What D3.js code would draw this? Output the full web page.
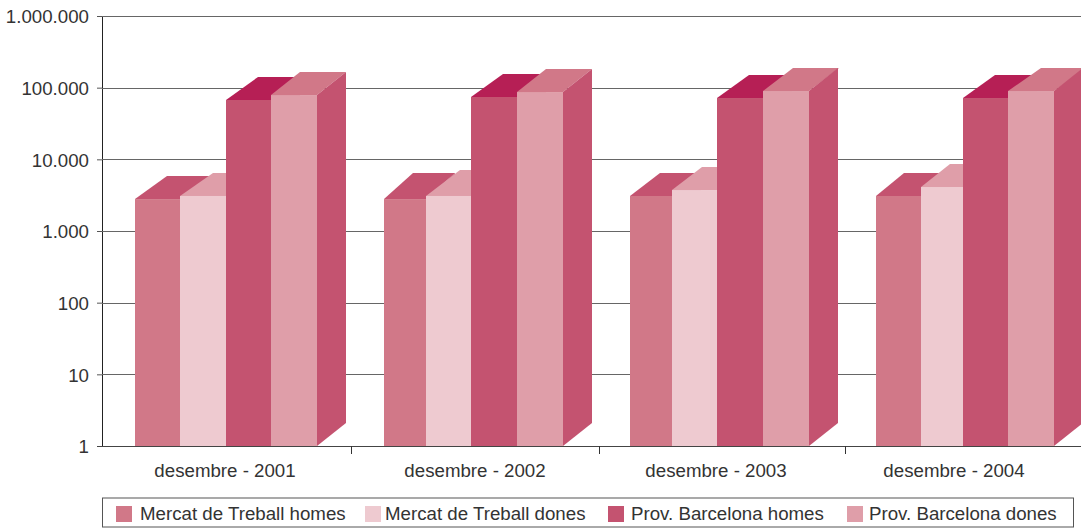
<!DOCTYPE html>
<html><head><meta charset="utf-8">
<script src="https://cdn.jsdelivr.net/npm/d3@7"></script>
<style>html,body{margin:0;padding:0;background:#fff;overflow:hidden}svg{display:block}
text{font-family:"Liberation Sans",Arial,sans-serif;fill:#333}</style></head>
<body><svg id="c" width="1081" height="528"></svg>
<script>
const categories = ["desembre - 2001","desembre - 2002","desembre - 2003","desembre - 2004"];
const seriesNames = ["Mercat de Treball homes","Mercat de Treball dones","Prov. Barcelona homes","Prov. Barcelona dones"];
const mercatHomes = [2790,2790,3080,3080];
const mercatDones = [3080,3080,3730,4110];
const provHomes = [67300,74100,71700,71700];
const provDones = [78900,86900,89800,89800];
const yTicks = [1,10,100,1000,10000,100000,1000000];
const allSeries = [mercatHomes,mercatDones,provHomes,provDones];

// layout
const svg = d3.select("#c");
const plotL = 102, plotR = 1081, plotT = 16, plotB = 446;
const y = d3.scaleLog().domain([1,1000000]).range([plotB,plotT]);
const fronts = ["#d17888","#eecad0","#c45370","#df9ea9"];
const tops = ["#c45370","#df9ea9","#b61f55","#d17888"];
const sideColor = "#c45370";
// bar edges per group as drawn in the original (slightly irregular)
const edgeScales = [
  d3.scaleOrdinal().domain([0,1,2,3,4]).range([135,180,226,271,317]),
  d3.scaleOrdinal().domain([0,1,2,3,4]).range([384,426,471,517,563]),
  d3.scaleOrdinal().domain([0,1,2,3,4]).range([630,672,717,763,809]),
  d3.scaleOrdinal().domain([0,1,2,3,4]).range([876,921,963,1008,1054])
];
const depthX = [[32,33,32,29],[29,34,32,29],[30,30,32,30],[28,29,32,33]];
const depthY = [[23,23,23,23],[26,26,23,23],[23,23,23,23],[23,23,23,23]];
const sideDx = 29;
const clusterLabel = d3.scaleOrdinal().domain(categories).range([225,475,716,954]);
const separators = d3.scaleOrdinal().domain([1,2,3]).range([351,599,845]);
const textSize = "18.7px";

// y axis & grid
const fmt = v => d3.format(",")(v).replace(/,/g,".");
const gy = svg.append("g").attr("transform",`translate(${plotL},0)`)
  .call(d3.axisLeft(y).tickValues(yTicks).tickFormat(fmt).tickSize(5).tickPadding(8));
gy.selectAll("text").style("font-size",textSize).attr("fill","#333").attr("dy","0.36em").attr("x",-13);
gy.selectAll(".tick line").attr("stroke","#555");
gy.select(".domain").attr("stroke","#222").attr("d",`M0.5,${plotT}V${plotB}`);
svg.append("g").selectAll("line").data(yTicks.slice(1)).join("line")
  .attr("x1",plotL).attr("x2",plotR)
  .attr("y1",d=>Math.round(y(d))+.5).attr("y2",d=>Math.round(y(d))+.5)
  .attr("stroke","#666").attr("stroke-width",1);
svg.append("line").attr("x1",plotL-5).attr("x2",plotR).attr("y1",plotB+.5).attr("y2",plotB+.5).attr("stroke","#444");

// separators
svg.append("g").selectAll("line").data(separators.domain()).join("line")
  .attr("x1",d=>separators(d)+.5).attr("x2",d=>separators(d)+.5)
  .attr("y1",plotB).attr("y2",plotB+8).attr("stroke","#333");

// bars
const g = svg.append("g");
categories.forEach((c,gi)=>{
  const ex = edgeScales[gi];
  allSeries.forEach((vals,si)=>{
    const x0 = ex(si), x1 = ex(si+1), yv = y(vals[gi]);
    const d = depthX[gi][si], dy = depthY[gi][si];
    g.append("path").attr("fill",tops[si])
      .attr("d",`M${x0},${yv}L${x0+d},${yv-dy}L${x1+d},${yv-dy}L${x1},${yv}Z`);
    g.append("path").attr("fill",sideColor)
      .attr("d",`M${x1},${yv}L${x1+sideDx},${yv-dy}L${x1+sideDx},${plotB-dy}L${x1},${plotB}Z`);
    g.append("rect").attr("x",x0).attr("y",yv).attr("width",x1-x0).attr("height",plotB-yv).attr("fill",fronts[si]);
  });
});

// category labels
svg.append("g").selectAll("text").data(categories).join("text")
  .attr("x",d=>clusterLabel(d)).attr("y",477).attr("text-anchor","middle")
  .style("font-size",textSize).text(d=>d);

// legend
svg.append("rect").attr("x",102.5).attr("y",498).attr("width",971).attr("height",29)
  .attr("fill","#fff").attr("stroke","#555");
const swatchX = d3.scaleOrdinal().domain(seriesNames).range([116,365,608,847]);
const labelX = d3.scaleOrdinal().domain(seriesNames).range([140,385,631,869]);
const lg = svg.append("g").selectAll("g").data(seriesNames).join("g");
lg.append("rect").attr("x",d=>swatchX(d)).attr("y",506).attr("width",16).attr("height",16)
  .attr("fill",(d,i)=>fronts[i]);
lg.append("text").attr("x",d=>labelX(d)).attr("y",520).style("font-size",textSize).text(d=>d);
</script></body></html>
